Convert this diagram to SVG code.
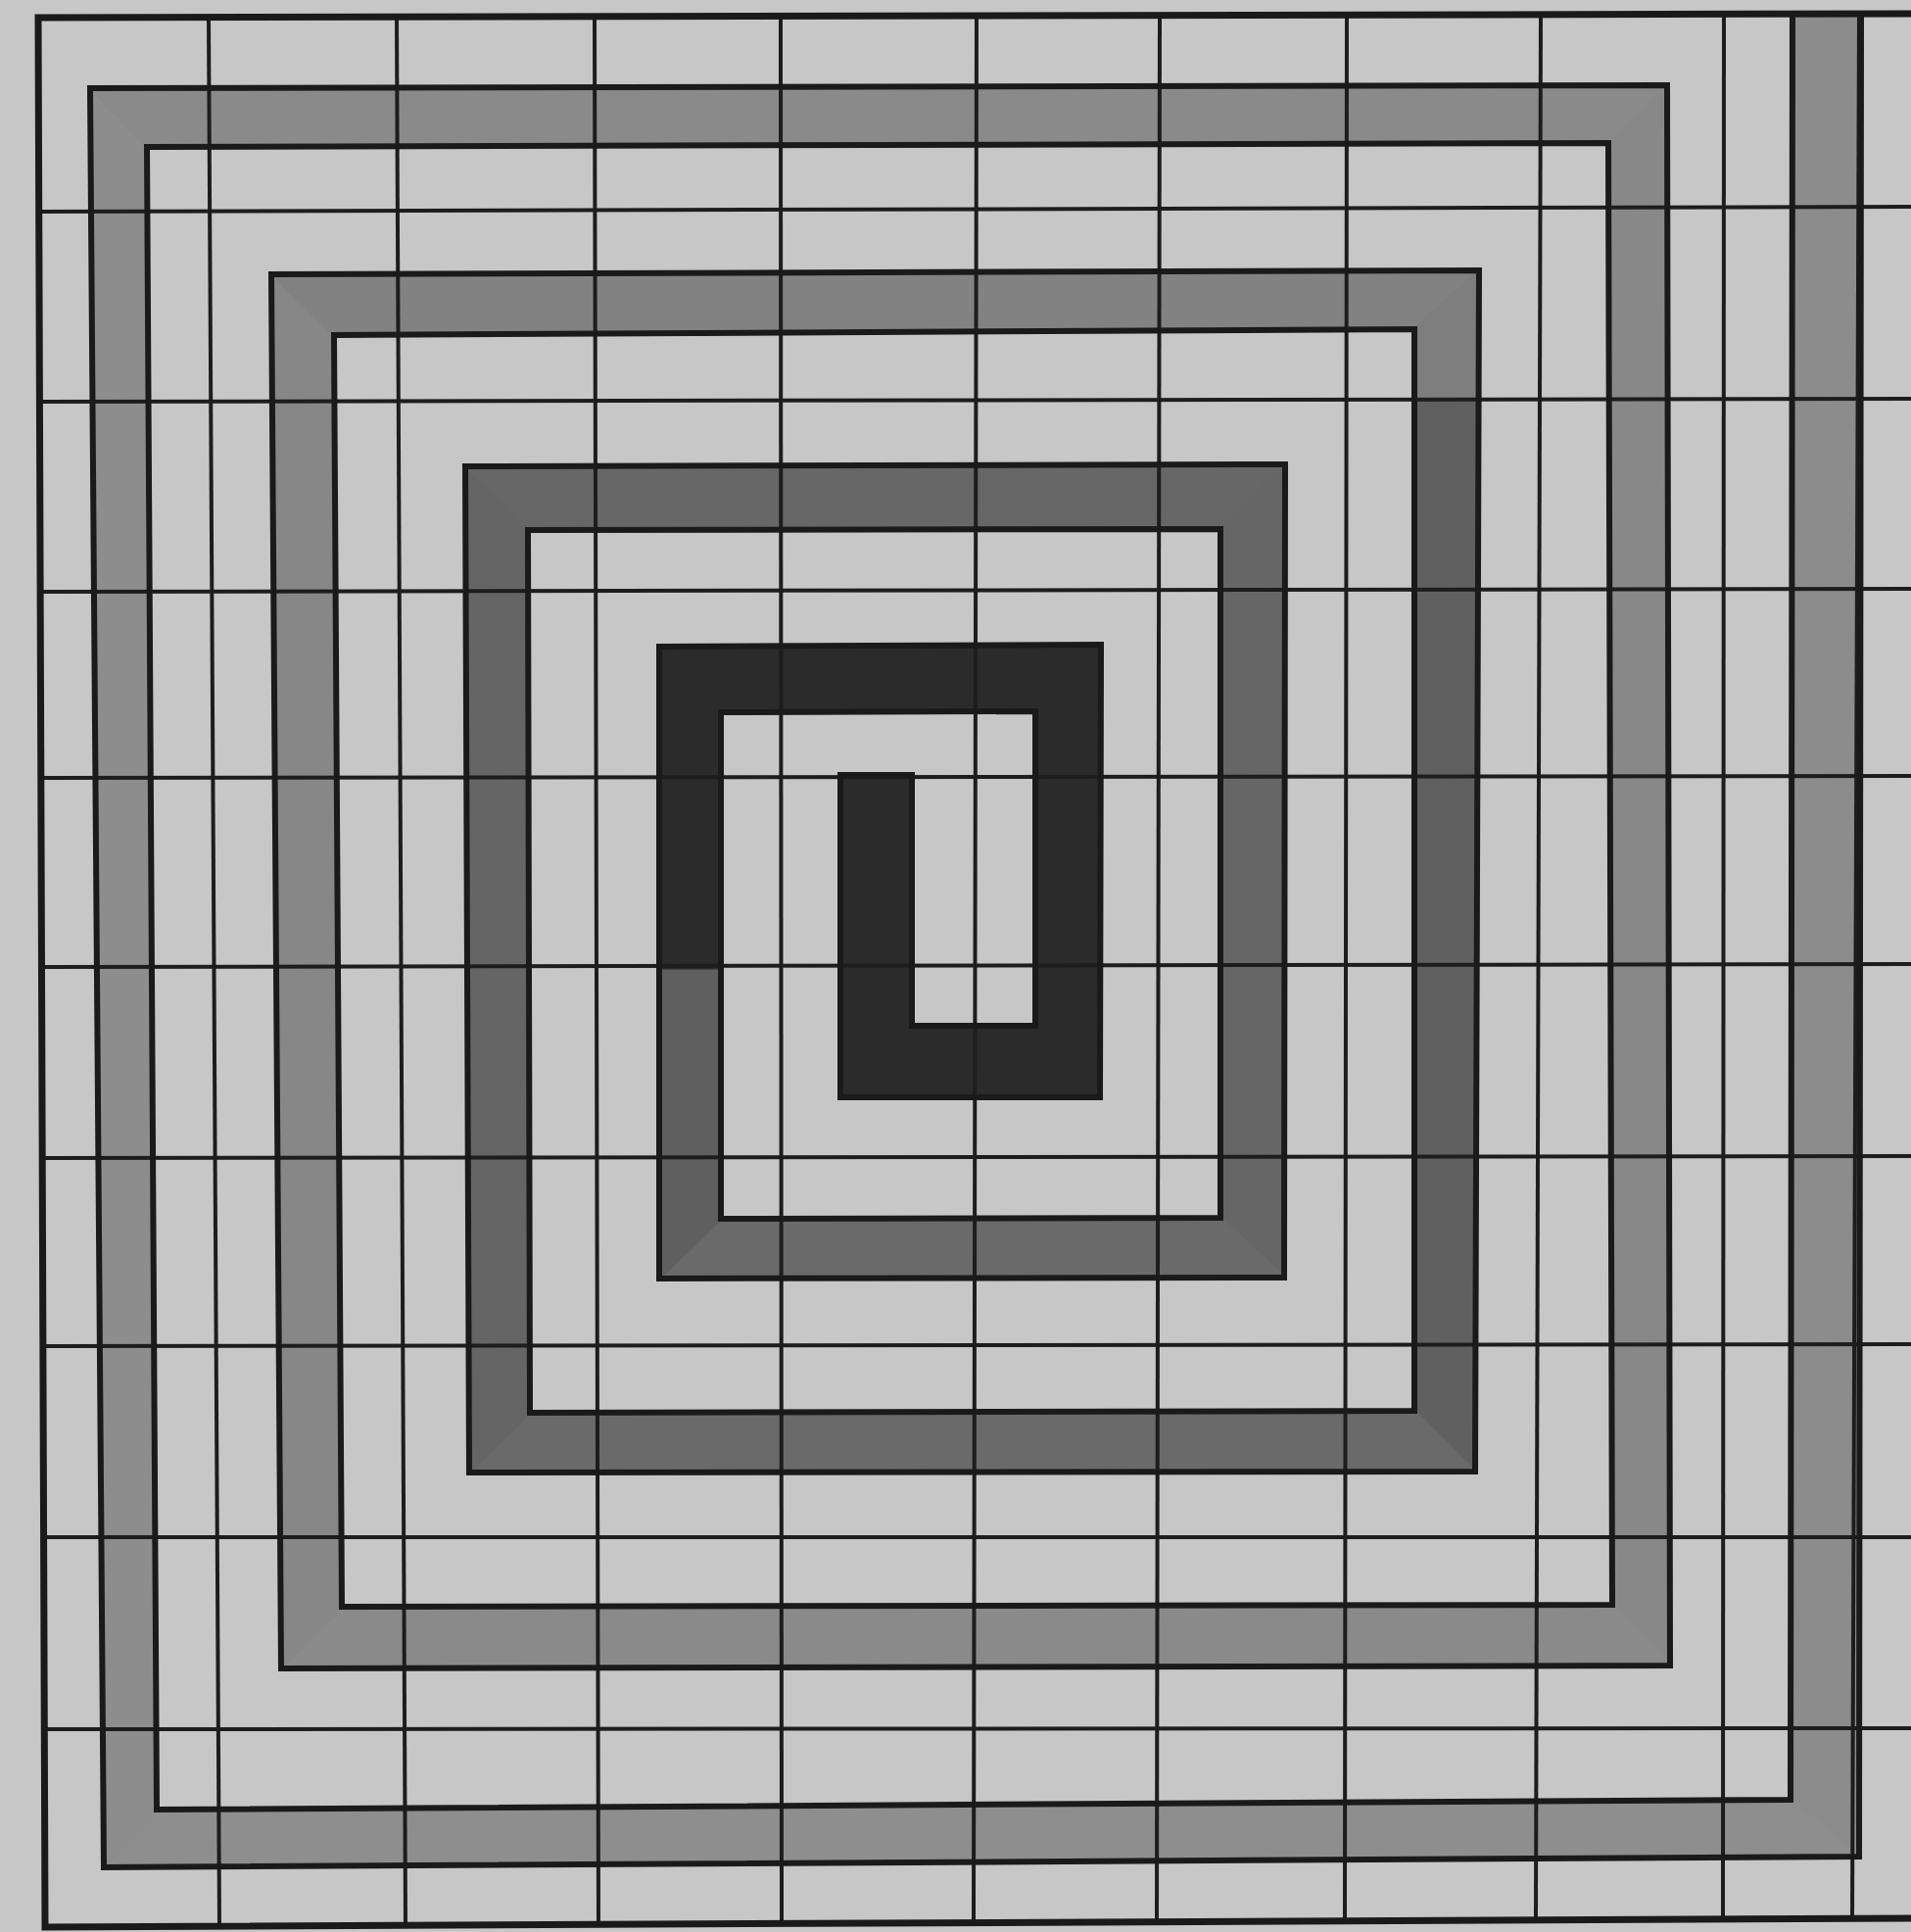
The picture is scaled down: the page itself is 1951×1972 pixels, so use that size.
<svg xmlns="http://www.w3.org/2000/svg" width="1951" height="1972" viewBox="0 0 1951 1972">
  <style>
    .grid { stroke: #1d1d1d; stroke-width: 4; stroke-linecap: square; fill: none; }
    .border { stroke: #1a1a1a; stroke-width: 7; fill: none; }
    .outline { stroke: #1a1a1a; stroke-width: 6; fill: none; stroke-linejoin: miter; }
    #spiral-fill polygon { stroke-width: 3; stroke-linejoin: round; }
  </style>
  <rect x="0" y="0" width="1951" height="1972" fill="#c7c7c7"/>
  <g id="spiral-fill">
    <polygon fill="#8c8c8c" stroke="#8c8c8c" points="1900,14 1898,1895 1828,1837 1830,14"/>
    <polygon fill="#8e8e8e" stroke="#8e8e8e" points="1898,1895 106,1906 160,1847 1828,1837"/>
    <polygon fill="#8d8d8d" stroke="#8d8d8d" points="106,1906 92,90 150,150 160,1847"/>
    <polygon fill="#8a8a8a" stroke="#8a8a8a" points="92,90 1702,87 1642,146 150,150"/>
    <polygon fill="#888888" stroke="#888888" points="1702,87 1705,1700 1646,1638 1642,146"/>
    <polygon fill="#8a8a8a" stroke="#8a8a8a" points="1705,1700 287,1703 349,1640 1646,1638"/>
    <polygon fill="#878787" stroke="#878787" points="287,1703 277,280 341,342 349,1640"/>
    <polygon fill="#828282" stroke="#828282" points="277,280 1510,276 1444,336 341,342"/>
    <polygon fill="#7e7e7e" stroke="#7e7e7e" points="1510,276 1509,408 1444,408 1444,336"/>
    <polygon fill="#606060" stroke="#606060" points="1509,408 1506,1502 1444,1440 1444,408"/>
    <polygon fill="#6a6a6a" stroke="#6a6a6a" points="1506,1502 479,1503 541,1442 1444,1440"/>
    <polygon fill="#656565" stroke="#656565" points="479,1503 475,476 539,541 541,1442"/>
    <polygon fill="#676767" stroke="#676767" points="475,476 1312,474 1246,540 539,541"/>
    <polygon fill="#666666" stroke="#666666" points="1312,474 1311,1304 1246,1243 1246,540"/>
    <polygon fill="#6a6a6a" stroke="#6a6a6a" points="1311,1304 673,1305 736,1244 1246,1243"/>
    <polygon fill="#5f5f5f" stroke="#5f5f5f" points="673,1305 673,988 736,988 736,1244"/>
    <polygon fill="#2b2b2b" stroke="#2b2b2b" points="673,988 673,660 736,727 736,988"/>
    <polygon fill="#2b2b2b" stroke="#2b2b2b" points="673,660 1124,658 1057,726 736,727"/>
    <polygon fill="#2b2b2b" stroke="#2b2b2b" points="1124,658 1123,1120 1057,1047 1057,726"/>
    <polygon fill="#2b2b2b" stroke="#2b2b2b" points="1123,1120 858,1120 931,1047 1057,1047"/>
    <polygon fill="#2b2b2b" stroke="#2b2b2b" points="858,1120 858,791 931,791 931,1047"/>
  </g>
  <g id="grid">
    <line class="grid" x1="213" y1="17" x2="224" y2="1964"/>
    <line class="grid" x1="405" y1="17" x2="414" y2="1964"/>
    <line class="grid" x1="607" y1="17" x2="611" y2="1963"/>
    <line class="grid" x1="797" y1="16" x2="798" y2="1962"/>
    <line class="grid" x1="997" y1="16" x2="994" y2="1961"/>
    <line class="grid" x1="1184" y1="16" x2="1181" y2="1960"/>
    <line class="grid" x1="1375" y1="15" x2="1373" y2="1959"/>
    <line class="grid" x1="1573" y1="15" x2="1568" y2="1958"/>
    <line class="grid" x1="1760" y1="15" x2="1759" y2="1957"/>
    <line class="grid" x1="1898" y1="14" x2="1891" y2="1957"/>
    <line class="grid" x1="40" y1="216" x2="1951" y2="211"/>
    <line class="grid" x1="40" y1="410" x2="1951" y2="407"/>
    <line class="grid" x1="41" y1="604" x2="1951" y2="601"/>
    <line class="grid" x1="42" y1="794" x2="1951" y2="792"/>
    <line class="grid" x1="43" y1="987" x2="1951" y2="984"/>
    <line class="grid" x1="44" y1="1182" x2="1951" y2="1180"/>
    <line class="grid" x1="44" y1="1374" x2="1951" y2="1372"/>
    <line class="grid" x1="45" y1="1569" x2="1951" y2="1569"/>
    <line class="grid" x1="45" y1="1765" x2="1951" y2="1764"/>
  </g>
  <g id="frame">
    <polyline class="border" points="1951,14 39,18 46,1967 1951,1958"/>
  </g>
  <g id="spiral-outline">
    <polygon class="outline" points="1900,14 1898,1895 106,1906 92,90 1702,87 1705,1700 287,1703 277,280 1510,276 1506,1502 479,1503 475,476 1312,474 1311,1304 673,1305 673,660 1124,658 1123,1120 858,1120 858,791 931,791 931,1047 1057,1047 1057,726 736,727 736,1244 1246,1243 1246,540 539,541 541,1442 1444,1440 1444,336 341,342 349,1640 1646,1638 1642,146 150,150 160,1847 1828,1837 1830,14"/>
  </g>
</svg>
